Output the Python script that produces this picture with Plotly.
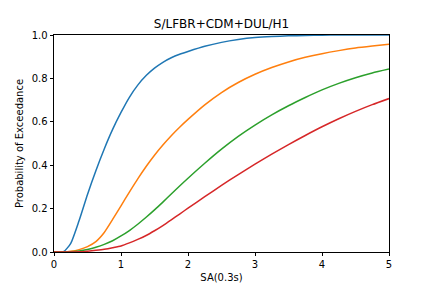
import plotly.graph_objects as go

sa = [0, 0.1, 0.15, 0.25, 0.375, 0.5, 0.625, 0.75, 0.875, 1.0, 1.125, 1.25, 1.375, 1.5,
      1.625, 1.75, 1.875, 2.0, 2.25, 2.5, 2.75, 3.0, 3.25, 3.5, 3.75, 4.0, 4.25, 4.5, 4.75, 5.0]

p_slight = [0, 0, 0.003, 0.04, 0.145, 0.265, 0.375, 0.475, 0.565, 0.643, 0.713, 0.769, 0.813, 0.847,
            0.874, 0.895, 0.911, 0.924, 0.948, 0.966, 0.979, 0.988, 0.993, 0.996, 0.998, 0.999, 1.0, 1.0, 1.0, 1.0]
p_moderate = [0, 0, 0, 0.003, 0.011, 0.025, 0.048, 0.09, 0.15, 0.213, 0.276, 0.337, 0.394, 0.446,
              0.493, 0.536, 0.575, 0.611, 0.678, 0.735, 0.781, 0.819, 0.85, 0.876, 0.897, 0.914, 0.928, 0.94, 0.949, 0.957]
p_extensive = [0, 0, 0, 0.001, 0.005, 0.012, 0.022, 0.035, 0.052, 0.074, 0.099, 0.128, 0.16, 0.194,
               0.23, 0.267, 0.304, 0.34, 0.409, 0.474, 0.533, 0.585, 0.632, 0.674, 0.712, 0.747, 0.777, 0.803, 0.825, 0.843]
p_complete = [0, 0, 0, 0, 0.001, 0.004, 0.008, 0.013, 0.02, 0.028, 0.042, 0.058, 0.076, 0.098,
              0.122, 0.148, 0.175, 0.202, 0.255, 0.307, 0.357, 0.405, 0.451, 0.495, 0.537, 0.577, 0.614, 0.648, 0.679, 0.707]

series = [("Slight", p_slight, "#1f77b4"), ("Moderate", p_moderate, "#ff7f0e"),
          ("Extensive", p_extensive, "#2ca02c"), ("Complete", p_complete, "#d62728")]

fig = go.Figure()
for name, vals, col in series:
    fig.add_trace(go.Scatter(x=sa, y=vals, mode="lines", name=name,
                             line=dict(color=col, width=1.5, shape="spline", smoothing=0.6),
                             showlegend=False))

font = "DejaVu Sans"
fig.update_layout(
    width=432, height=288,
    margin=dict(l=54, r=43, t=35, b=36),
    paper_bgcolor="white", plot_bgcolor="white",
    font=dict(family=font, size=10, color="black"),
    title=dict(text="S/LFBR+CDM+DUL/H1", x=0.5, xref="paper", xanchor="center",
               y=1 - 24 / 288, yref="container", yanchor="middle",
               font=dict(family=font, size=12, color="black")),
)
fig.update_xaxes(range=[0, 5], tickvals=[0, 1, 2, 3, 4, 5], ticktext=["0", "1", "2", "3", "4", "5"],
                 showgrid=False, zeroline=False, showline=True, mirror=True, automargin=False,
                 linecolor="black", linewidth=0.8, ticks="outside", ticklen=3.5, tickwidth=0.8,
                 tickcolor="black", title=dict(text="SA(0.3s)", standoff=4,
                                               font=dict(family=font, size=10)))
fig.update_yaxes(range=[0, 1], tickvals=[0, 0.2, 0.4, 0.6, 0.8, 1.0],
                 ticktext=["0.0", "0.2", "0.4", "0.6", "0.8", "1.0"],
                 showgrid=False, zeroline=False, showline=True, mirror=True, automargin=False,
                 linecolor="black", linewidth=0.8, ticks="outside", ticklen=3.5, tickwidth=0.8,
                 tickcolor="black", title=dict(text="Probability of Exceedance", standoff=6,
                                               font=dict(family=font, size=10)))

fig.write_html("out.html")
